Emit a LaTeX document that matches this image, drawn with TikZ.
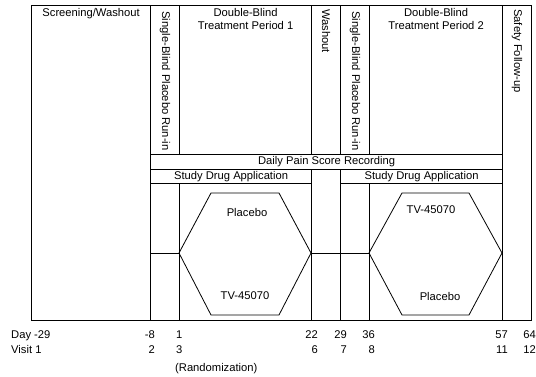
\documentclass[tikz,border=0pt]{standalone}
\usepackage{fontspec}
\setmainfont{Liberation Sans}
\usetikzlibrary{positioning}

\newcommand{\studyfont}{\fontsize{11.2}{13.6}\selectfont}
\tikzset{
  cell/.style={draw, line width=1.2pt, inner sep=0pt, anchor=north west, font=\studyfont},
  head/.style={font=\studyfont, align=center, inner sep=0pt},
  vhead/.style={head, rotate=-90, anchor=west},
  arm/.style={draw, line width=0.8pt},
  daylbl/.style={font=\studyfont, inner sep=0pt, anchor=base east},
}

\begin{document}
\begin{tikzpicture}[x=1pt, y=-1pt]
  \useasboundingbox (0,0) rectangle (536,377);

  % period columns
  \node[cell, minimum width=119pt, minimum height=315pt] (screen) at (31,5) {};
  \node[cell, minimum width=29pt, minimum height=149pt] (runA) at (150,5) {};
  \node[cell, minimum width=132pt, minimum height=149pt] (dbA) at (179,5) {};
  \node[cell, minimum width=29pt, minimum height=149pt] (wash) at (311,5) {};
  \node[cell, minimum width=29pt, minimum height=149pt] (runB) at (340,5) {};
  \node[cell, minimum width=133pt, minimum height=149pt] (dbB) at (369,5) {};
  \node[cell, minimum width=29pt, minimum height=315pt] (safety) at (502,5) {};

  % recording rows
  \node[cell, minimum width=352pt, minimum height=15pt] (pain) at (150,154) {Daily Pain Score Recording};
  \node[cell, minimum width=161pt, minimum height=14pt] (drugA) at (150,169) {Study Drug Application};
  \node[cell, minimum width=162pt, minimum height=14pt] (drugB) at (340,169) {Study Drug Application};

  % lower cells
  \node[cell, minimum width=29pt, minimum height=137pt] (runAlow) at (150,183) {};
  \node[cell, minimum width=132pt, minimum height=137pt] (dbAlow) at (179,183) {};
  \node[cell, minimum width=29pt, minimum height=151pt] (washlow) at (311,169) {};
  \node[cell, minimum width=29pt, minimum height=137pt] (runBlow) at (340,183) {};
  \node[cell, minimum width=133pt, minimum height=137pt] (dbBlow) at (369,183) {};

  % column headings
  \node[head, below=3pt of screen.north] (screenT) {Screening/Washout};
  \node[head, below=3pt of dbA.north] (dbAT) {Double-Blind\\Treatment Period 1};
  \node[head, below=3pt of dbB.north] (dbBT) {Double-Blind\\Treatment Period 2};
  \node[vhead] (runAT) at ([yshift=-6pt]runA.north) {Single-Blind Placebo Run-in};
  \node[vhead] (washT) at ([yshift=-4pt]wash.north) {Washout};
  \node[vhead] (runBT) at ([yshift=-6pt]runB.north) {Single-Blind Placebo Run-in};
  \node[vhead] (safetyT) at ([yshift=-4pt]safety.north) {Safety Follow-up};

  % treatment arms
  \coordinate (splitA) at (179,253);
  \coordinate (joinA) at (311,253);
  \coordinate (splitB) at (369,253);
  \coordinate (joinB) at (502,253);
  \draw[arm] (runAlow.west |- splitA) -- (splitA);
  \draw[arm] (joinA) -- (splitB);
  \draw[arm] (splitA) -- ++(32,-60) -- ++(68,0) -- (joinA) -- ++(-32,62) -- ++(-68,0) -- cycle;
  \draw[arm] (splitB) -- ++(33,-60) -- ++(67,0) -- (joinB) -- ++(-33,62) -- ++(-67,0) -- cycle;
  \node[head] (armA1) at (247,212) {Placebo};
  \node[head] (armA2) at (245,296) {TV-45070};
  \node[head] (armB1) at (431,210) {TV-45070};
  \node[head] (armB2) at (440,296) {Placebo};

  % days and visits
  \node[daylbl, anchor=base west] (dayT) at (11,338) {Day -29};
  \node[daylbl, anchor=base west] (visitT) at (11,353) {Visit 1};
  \node[daylbl] (dayA) at (155,338) {-8};
  \node[daylbl, anchor=base west] (dayB) at (176,338) {1};
  \node[daylbl] (dayC) at (318,338) {22};
  \node[daylbl] (dayD) at (347,338) {29};
  \node[daylbl] (dayE) at (375,338) {36};
  \node[daylbl] (dayF) at (508,338) {57};
  \node[daylbl] (dayG) at (536,338) {64};
  \node[daylbl] (visitA) at (155,353) {2};
  \node[daylbl, anchor=base west] (visitB) at (176,353) {3};
  \node[daylbl] (visitC) at (318,353) {6};
  \node[daylbl] (visitD) at (347,353) {7};
  \node[daylbl] (visitE) at (375,353) {8};
  \node[daylbl] (visitF) at (508,353) {11};
  \node[daylbl] (visitG) at (536,353) {12};
  \node[daylbl, anchor=base west] (randT) at (175,371) {(Randomization)};
\end{tikzpicture}
\end{document}
